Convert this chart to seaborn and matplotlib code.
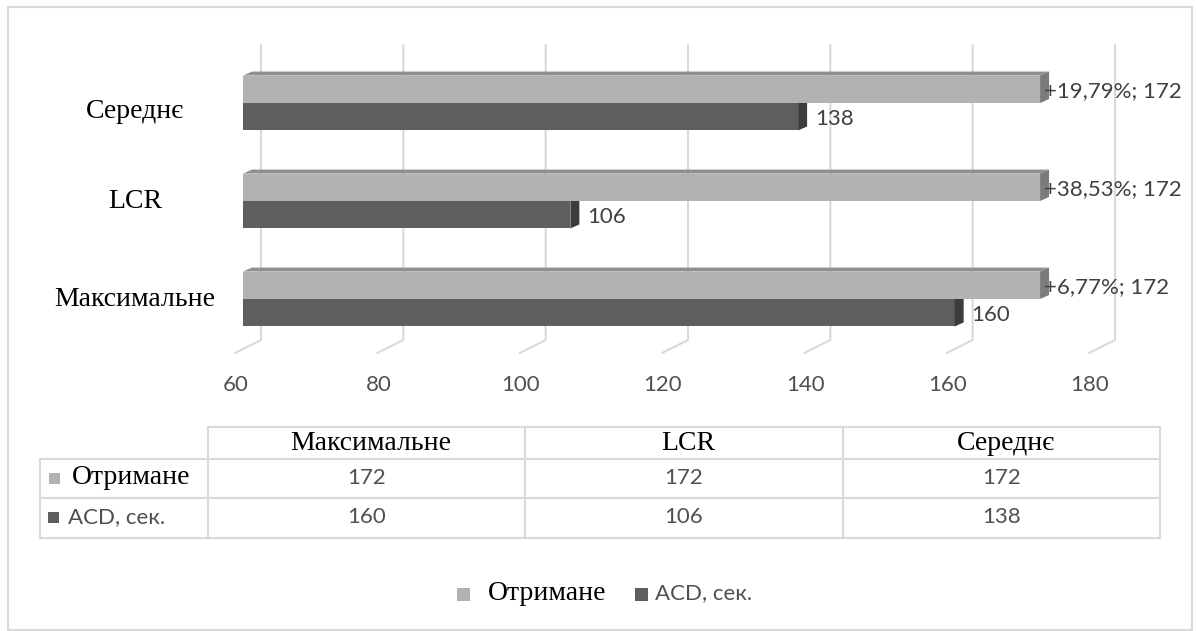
import matplotlib
matplotlib.use('Agg')
import matplotlib.pyplot as plt
import seaborn as sns
import pandas as pd
from matplotlib.patches import Polygon, Rectangle
from matplotlib.lines import Line2D

# data
categories = ['Максимальне', 'LCR', 'Середнє']
series = ['Отримане', 'ACD, сек.']
received = [172, 172, 172]
acd = [160, 106, 138]
gain_labels = ['+6,77%; 172', '+38,53%; 172', '+19,79%; 172']
x_ticks = [60, 80, 100, 120, 140, 160, 180]

W, H = 1196, 631
LIGHT, LIGHT_TOP, LIGHT_SIDE = '#b2b2b2', '#8f8f8f', '#7b7b7b'
DARK, DARK_SIDE = '#5e5e5e', '#3c3c3c'
GRID = '#d9d9d9'
SERIF, SANS = 'Liberation Serif', 'Lato'

df = pd.DataFrame({
    'category': categories * 2,
    'series': [series[0]] * 3 + [series[1]] * 3,
    'value': received + acd,
})

sns.set_style('white')
fig = plt.figure(figsize=(W / 100, H / 100), dpi=100)


def fx(px):
    return px / W


def fy(py):
    return 1 - py / H


# axes = front plane of the bars, in pixel layout of the reference
ax_l, ax_r, ax_t, ax_b = 243, 1097, 54, 348
ax = fig.add_axes([fx(ax_l), fy(ax_b), (ax_r - ax_l) / W, (ax_b - ax_t) / H])
order = categories[::-1]
sns.barplot(data=df, x='value', y='category', hue='series', order=order,
            hue_order=series, palette=[LIGHT, DARK], width=0.56, orient='h',
            errorbar=None, saturation=1, legend=False, linewidth=0, ax=ax)
ax.set_xlim(60, 180)
ax.set_ylim(2.5, -0.5)
ax.set_xticks([])
ax.set_yticks([])
ax.set_xlabel('')
ax.set_ylabel('')
for s in ax.spines.values():
    s.set_visible(False)
ax.patch.set_alpha(0)

# pixel -> data helpers
sx = 120 / (ax_r - ax_l)
sy = 3 / (ax_b - ax_t)


def ydat(py):
    return (py - ax_t) * sy - 0.5


def xdat(px):
    return 60 + (px - ax_l) * sx


# back-wall gridlines and floor ticks
for t in x_ticks:
    ax.plot([t + 18 * sx, t + 18 * sx, t - 8 * sx], [ydat(45), ydat(340), ydat(353)],
            color=GRID, lw=1.5, zorder=0.5, clip_on=False)
    ax.text(t - 7 * sx, ydat(385), str(t), ha='center', va='center',
            fontsize=16, family=SANS, color='#505050', clip_on=False)

# 3D faces
dx, dy = 9 * sx, 4 * sy
light_bars, dark_bars = ax.containers[0], ax.containers[1]
for p in dark_bars:
    v, y0, y1 = p.get_width(), p.get_y(), p.get_y() + p.get_height()
    p.set_zorder(2)
    ax.add_patch(Polygon([(v, y0), (v + dx, y0 - dy), (v + dx, y1 - dy), (v, y1)],
                         closed=True, facecolor=DARK_SIDE, lw=0, zorder=2.5, clip_on=False))
for p in light_bars:
    v, y0, y1 = p.get_width(), p.get_y(), p.get_y() + p.get_height()
    p.set_zorder(3)
    ax.add_patch(Polygon([(60, y0), (v, y0), (v + dx, y0 - dy), (60 + dx, y0 - dy)],
                         closed=True, facecolor=LIGHT_TOP, lw=0, zorder=3, clip_on=False))
    ax.add_patch(Polygon([(v, y0), (v + dx, y0 - dy), (v + dx, y1 - dy), (v, y1)],
                         closed=True, facecolor=LIGHT_SIDE, lw=0, zorder=3, clip_on=False))

# data labels
for i, cat in enumerate(order):
    k = categories.index(cat)
    lp = light_bars[i]
    dp = dark_bars[i]
    ax.text(lp.get_width() + 4 * sx, lp.get_y() + lp.get_height() / 2 + 2 * sy, gain_labels[k],
            ha='left', va='center', fontsize=16, family=SANS, color='#404040', clip_on=False, zorder=5)
    ax.text(dp.get_width() + 17 * sx, dp.get_y() + dp.get_height() / 2 + 2 * sy, str(acd[k]),
            ha='left', va='center', fontsize=16, family=SANS, color='#404040', clip_on=False, zorder=5)

# category labels
label_dy = {'Середнє': 9}
for i, cat in enumerate(order):
    ax.text(xdat(135), i + label_dy.get(cat, 0) * sy, cat, ha='center', va='center',
            fontsize=20, family=SERIF, color='black', clip_on=False)


# data table
def hline(x0, x1, y):
    fig.add_artist(Line2D([fx(x0), fx(x1)], [fy(y), fy(y)], color=GRID, lw=1.5))


def vline(x, y0, y1):
    fig.add_artist(Line2D([fx(x), fx(x)], [fy(y0), fy(y1)], color=GRID, lw=1.5))


col_x = [208, 525, 843, 1160]
row_y = [427, 459, 498, 538]
hline(col_x[0], col_x[-1], row_y[0])
for y in row_y[1:]:
    hline(40, col_x[-1], y)
vline(40, row_y[1], row_y[-1])
for x in col_x:
    vline(x, row_y[0], row_y[-1])

for j, cat in enumerate(categories):
    cx = (col_x[j] + col_x[j + 1]) / 2
    fig.text(fx(cx + 4), fy(443), cat, ha='center', va='center', fontsize=20,
             family=SERIF, color='black')
    fig.text(fx(cx), fy(478), str(received[j]), ha='center', va='center', fontsize=16,
             family=SANS, color='#505050')
    fig.text(fx(cx), fy(517), str(acd[j]), ha='center', va='center', fontsize=16,
             family=SANS, color='#505050')


def square(x, y, size, color):
    fig.add_artist(Rectangle((fx(x), fy(y + size)), size / W, size / H,
                             facecolor=color, lw=0, transform=fig.transFigure))


square(49, 473, 11, LIGHT)
fig.text(fx(72), fy(478), series[0], ha='left', va='center', fontsize=20, family=SERIF, color='black')
square(48, 512, 11, DARK)
fig.text(fx(68), fy(517), series[1], ha='left', va='center', fontsize=16, family=SANS, color='#505050')

# legend
square(457, 588, 13, LIGHT)
fig.text(fx(488), fy(593), series[0], ha='left', va='center', fontsize=20, family=SERIF, color='black')
square(635, 588, 13, DARK)
fig.text(fx(655), fy(593), series[1], ha='left', va='center', fontsize=16, family=SANS, color='#505050')

# chart area border
fig.add_artist(Rectangle((fx(8), fy(630)), (1192 - 8) / W, (630 - 7) / H, fill=False,
                         edgecolor=GRID, lw=1.5, transform=fig.transFigure))

fig.savefig('out.png', dpi=100, facecolor='white')
